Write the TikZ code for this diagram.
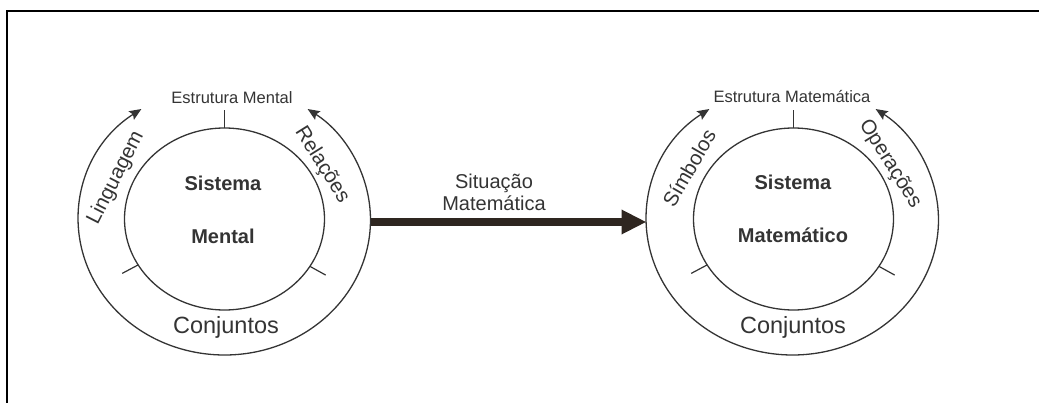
\documentclass[tikz,border=0pt]{standalone}
\usepackage{fontspec}
\setmainfont{Liberation Sans}
\usepackage{tikz}
\usetikzlibrary{arrows.meta,positioning,shapes.geometric,calc}
\definecolor{inkgray}{RGB}{52,52,52}
\definecolor{arrowbrown}{RGB}{46,38,32}

\begin{document}
\begin{tikzpicture}[x=1pt, y=1pt,
    sysring/.style={ellipse, draw=inkgray, line width=1.3pt, minimum width=200pt, minimum height=182pt, inner sep=0pt, outer sep=0pt},
    outerring/.style={ellipse, minimum width=292pt, minimum height=270pt, inner sep=0pt, outer sep=0pt},
    ringarrow/.style={draw=inkgray, line width=1.3pt, {Stealth[length=12pt,width=10pt,inset=2pt]}-{Stealth[length=12pt,width=10pt,inset=2pt]}},
    ringtick/.style={draw=inkgray, line width=1.2pt},
    mainarrow/.style={draw=arrowbrown, line width=8pt, -{Triangle[length=25pt,width=23pt]}},
    estlbl/.style={font=\fontsize{16.5}{18}\selectfont, text=inkgray},
    syslbl/.style={font=\bfseries\fontsize{20}{22}\selectfont, text=inkgray},
    arclbl/.style={font=\fontsize{20.5}{22}\selectfont, text=inkgray},
    setlbl/.style={font=\fontsize{23.5}{26}\selectfont, text=inkgray}
]
    \useasboundingbox (0,0) rectangle (1039,-403);

    % Frame
    \draw[line width=2.6pt, line join=miter] (7,-403) -- (7,-11) -- (1039,-11);

    % Left system
    \node[outerring] (mentalring) at (224.5,-220) {};
    \node[sysring] (mentalsys) at (224.5,-219) {};
    \draw[ringarrow] ($(mentalring.center)+(124.7:146 and 135)$) arc[start angle=124.7, end angle=415.3, x radius=146, y radius=135];
    \node[estlbl] (estmental) at (232,-98) {Estrutura Mental};
    \draw[ringtick] (mentalsys.north) -- ++(0,18);
    \draw[ringtick] (mentalsys.208) -- ($(mentalsys.208)!-18pt!(mentalsys.center)$);
    \draw[ringtick] (mentalsys.331) -- ($(mentalsys.331)!-18pt!(mentalsys.center)$);
    \node[arclbl, rotate=63] (linguagem) at (116,-178) {Linguagem};
    \node[arclbl, rotate=-58] (relacoes) at (322,-165) {Relações};
    \node[syslbl] (sistemaA) at (223,-183) {Sistema};
    \node[syslbl] (mental) at (223,-236) {Mental};
    \node[setlbl] (conjA) at (226,-327) {Conjuntos};

    % Right system
    \node[outerring] (matring) at (792.5,-220) {};
    \node[sysring] (matsys) at (793.5,-219) {};
    \draw[ringarrow] ($(matring.center)+(124.7:146 and 135)$) arc[start angle=124.7, end angle=415.3, x radius=146, y radius=135];
    \node[estlbl] (estmat) at (792,-97) {Estrutura Matemática};
    \draw[ringtick] (matsys.north) -- ++(0,18);
    \draw[ringtick] (matsys.208) -- ($(matsys.208)!-18pt!(matsys.center)$);
    \draw[ringtick] (matsys.331) -- ($(matsys.331)!-18pt!(matsys.center)$);
    \node[arclbl, rotate=60] (simbolos) at (689,-168) {Símbolos};
    \node[arclbl, rotate=-58] (operacoes) at (890,-164) {Operações};
    \node[syslbl] (sistemaB) at (793,-182) {Sistema};
    \node[syslbl] (matematico) at (793,-235) {Matemático};
    \node[setlbl] (conjB) at (793,-327) {Conjuntos};

    % Situation arrow
    \draw[mainarrow] ([yshift=-2pt]mentalring.east) -- ([yshift=-2pt]matring.west);
    \node[syslbl, font=\fontsize{20}{22}\selectfont, align=center] (situacao) at (494,-192) {Situação\\Matemática};
\end{tikzpicture}
\end{document}
